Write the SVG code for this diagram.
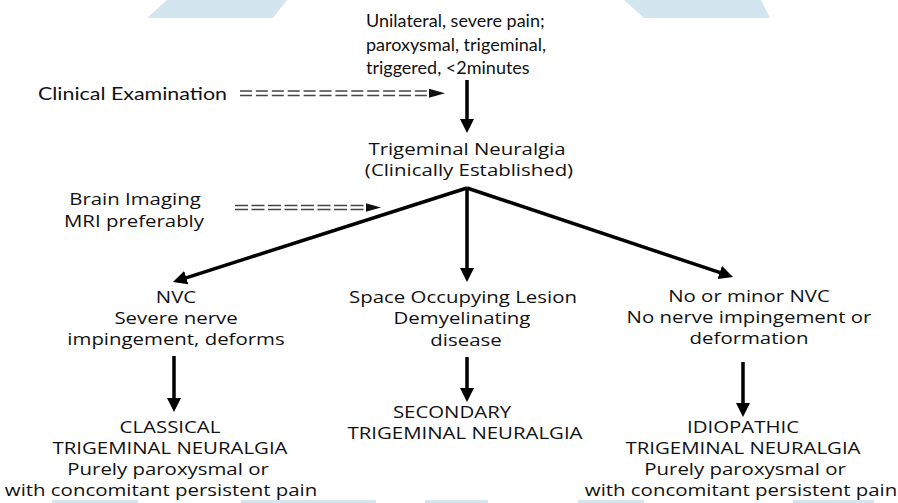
<svg xmlns="http://www.w3.org/2000/svg" width="898" height="503" viewBox="0 0 898 503">
<defs>
<marker id="ah" viewBox="0 0 10 10" refX="6" refY="5" markerWidth="4" markerHeight="4" markerUnits="strokeWidth" orient="auto"><path d="M0,0 L10,5 L0,10 Z" fill="#000"/></marker>
</defs>
<style>
.t{font-family:"Open Sans","Noto Sans","DejaVu Sans",sans-serif;font-size:17px;fill:#111;text-anchor:middle}
.c{font-family:Lato,"Liberation Sans",sans-serif;font-size:18px;fill:#111}
.a{stroke:#000;stroke-width:3.5;fill:none;marker-end:url(#ah)}
.d{stroke:#444;stroke-width:1.6;fill:none}
.h{fill:#111}
.wm{fill:#d3e6f0}
</style>
<rect width="898" height="503" fill="#fff"/>
<g id="watermark">
<polygon class="wm" points="167,0 287,0 273,18 147,18"/>
<polygon class="wm" points="624,0 761,0 770,18 644,18"/>
<rect class="wm" x="52" y="500" width="86" height="3"/>
<rect class="wm" x="241" y="500" width="135" height="3"/>
<rect class="wm" x="425" y="500" width="63" height="3"/>
<rect class="wm" x="578" y="500" width="66" height="3"/>
<rect class="wm" x="793" y="500" width="81" height="3"/>
</g>
<g id="connectors">
<line class="a" x1="467" y1="80" x2="467" y2="127.4"/>
<line class="a" x1="467" y1="188" x2="178.3" y2="280.3"/>
<line class="a" x1="467" y1="188" x2="467" y2="276.4"/>
<line class="a" x1="467" y1="188" x2="727.7" y2="275.2"/>
<line class="a" x1="174" y1="356" x2="174" y2="406.4"/>
<line class="a" x1="467" y1="357" x2="467" y2="396.4"/>
<line class="a" x1="743" y1="362" x2="743" y2="411.4"/>
<g id="exam-arrow">
<line class="d" x1="240" y1="91" x2="431" y2="91" stroke-dasharray="12 3.9"/>
<line class="d" x1="240" y1="95.5" x2="431" y2="95.5" stroke-dasharray="12 3.9"/>
<polygon class="h" points="429,88.8 445,93.3 429,97.8"/>
</g>
<g id="imaging-arrow">
<line class="d" x1="235" y1="205.5" x2="367" y2="205.5" stroke-dasharray="13 3.5"/>
<line class="d" x1="235" y1="209.5" x2="367" y2="209.5" stroke-dasharray="13 3.5"/>
<polygon class="h" points="366,203.3 381,207.5 366,211.7"/>
</g>
</g>
<g id="symptoms">
<text class="c" x="366" y="27">Unilateral, severe pain;</text>
<text class="c" x="366" y="51">paroxysmal, trigeminal,</text>
<text class="c" x="366" y="74">triggered, &lt;2minutes</text>
</g>
<g id="clinical-exam"><text class="c" transform="translate(38 100) scale(1.19 1)">Clinical Examination</text></g>
<g id="tn">
<text class="t" transform="translate(467 155) scale(1.2 1)">Trigeminal Neuralgia</text>
<text class="t" transform="translate(469 176) scale(1.2 1)">(Clinically Established)</text>
</g>
<g id="imaging">
<text class="t" transform="translate(135 205) scale(1.2 1)">Brain Imaging</text>
<text class="t" transform="translate(134 227) scale(1.2 1)">MRI preferably</text>
</g>
<g id="nvc">
<text class="t" transform="translate(176 303) scale(1.2 1)">NVC</text>
<text class="t" transform="translate(176 324) scale(1.2 1)">Severe nerve</text>
<text class="t" transform="translate(176 345) scale(1.2 1)">impingement, deforms</text>
</g>
<g id="sol">
<text class="t" transform="translate(463 303) scale(1.2 1)">Space Occupying Lesion</text>
<text class="t" transform="translate(462 324) scale(1.2 1)">Demyelinating</text>
<text class="t" transform="translate(466 346) scale(1.2 1)">disease</text>
</g>
<g id="minor">
<text class="t" transform="translate(749 302) scale(1.2 1)">No or minor NVC</text>
<text class="t" transform="translate(749 323) scale(1.2 1)">No nerve impingement or</text>
<text class="t" transform="translate(749 344) scale(1.2 1)">deformation</text>
</g>
<g id="classical">
<text class="t" transform="translate(170 433) scale(1.2 1)">CLASSICAL</text>
<text class="t" transform="translate(170 454) scale(1.2 1)">TRIGEMINAL NEURALGIA</text>
<text class="t" transform="translate(168 475) scale(1.2 1)">Purely paroxysmal or</text>
<text class="t" transform="translate(161 496) scale(1.2 1)">with concomitant persistent pain</text>
</g>
<g id="secondary">
<text class="t" transform="translate(452 418) scale(1.2 1)">SECONDARY</text>
<text class="t" transform="translate(465 439) scale(1.2 1)">TRIGEMINAL NEURALGIA</text>
</g>
<g id="idiopathic">
<text class="t" transform="translate(743 433) scale(1.2 1)">IDIOPATHIC</text>
<text class="t" transform="translate(743 454) scale(1.2 1)">TRIGEMINAL NEURALGIA</text>
<text class="t" transform="translate(745 475) scale(1.2 1)">Purely paroxysmal or</text>
<text class="t" transform="translate(741 496) scale(1.2 1)">with concomitant persistent pain</text>
</g>
</svg>
